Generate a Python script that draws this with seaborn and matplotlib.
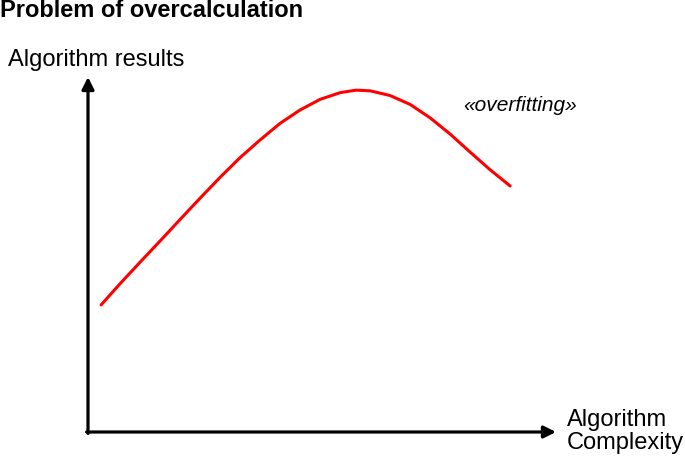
import numpy as np
import pandas as pd
import matplotlib
matplotlib.use("Agg")
import matplotlib.pyplot as plt
import seaborn as sb

# curve (axes run 0..10 both ways)
complexity = [0.28, 0.68, 1.11, 1.54, 1.97, 2.39, 2.82, 3.25, 3.68, 4.10,
              4.53, 4.96, 5.39, 5.73, 6.03, 6.45, 6.88, 7.31, 7.74, 8.16,
              8.59, 9.02]
results = [3.58, 4.17, 4.78, 5.38, 5.99, 6.58, 7.17, 7.73, 8.23, 8.69,
           9.07, 9.37, 9.56, 9.63, 9.61, 9.48, 9.23, 8.85, 8.39, 7.89,
           7.39, 6.93]

title = "Problem of overcalculation"
y_label = "Algorithm results"
x_label = ["Algorithm", "Complexity"]
note = "\u00aboverfitting\u00bb"


def main():
    sb.set_style("white")
    plt.rcParams['font.family'] = ['Liberation Sans', 'DejaVu Sans']
    plt.rcParams['text.color'] = 'black'

    W, H = 685, 460
    fig = plt.figure(figsize=(W / 100, H / 100), dpi=100)
    # axes box: origin at (88, 433) px, arrows end at x=556 and y=78
    ax = fig.add_axes([88 / W, 27 / H, 468 / W, 355 / H])

    df = pd.DataFrame({"complexity": complexity, "results": results})
    sb.lineplot(data=df, x="complexity", y="results", color="#ff0000",
                linewidth=2.2, sort=False, ax=ax,
                solid_joinstyle="round", solid_capstyle="round")
    ax.set_xlim(0, 10)
    ax.set_ylim(0, 10)
    ax.set_axis_off()

    arrow = dict(arrowstyle="-|>", color="black", lw=2.3,
                 mutation_scale=18, shrinkA=0, shrinkB=0)
    ax.annotate("", xy=(1, 0), xytext=(-0.003, 0), xycoords="axes fraction",
                arrowprops=arrow)
    ax.annotate("", xy=(0, 1), xytext=(0, -0.004), xycoords="axes fraction",
                arrowprops=arrow)

    fig.text(0 / W, 1 - 17 / H, title, fontsize=17, fontweight="bold",
             va="baseline", ha="left")
    fig.text(8 / W, 1 - 66 / H, y_label, fontsize=17, va="baseline", ha="left")
    fig.text(567 / W, 1 - 426 / H, x_label[0], fontsize=17, va="baseline", ha="left")
    fig.text(567 / W, 1 - 449 / H, x_label[1], fontsize=17, va="baseline", ha="left")
    fig.text(463 / W, 1 - 111 / H, note, fontsize=15, style="italic",
             va="baseline", ha="left")

    fig.savefig("out.png", dpi=100)


if __name__ == "__main__":
    main()
